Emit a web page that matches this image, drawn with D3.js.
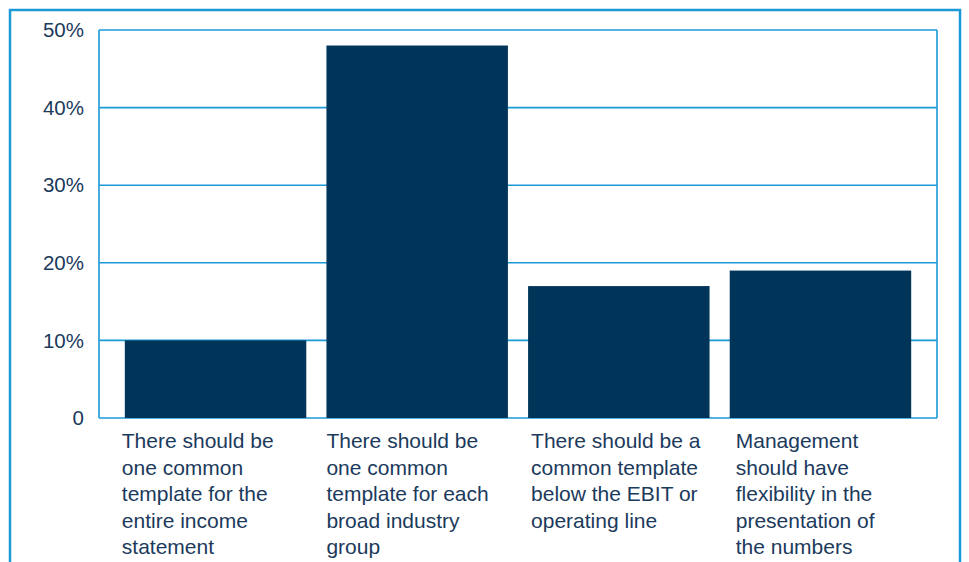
<!DOCTYPE html>
<html>
<head>
<meta charset="utf-8">
<script src="https://cdn.jsdelivr.net/npm/d3@7"></script>
<style>
  body { margin: 0; background: #fff; }
  svg { display: block; font-family: "Liberation Sans", Arial, sans-serif; }
</style>
</head>
<body>
<div id="chart"></div>
<script>
const categories = [
    ["There should be", "one common", "template for the", "entire income", "statement"],
    ["There should be", "one common", "template for each", "broad industry", "group"],
    ["There should be a", "common template", "below the EBIT or", "operating line"],
    ["Management", "should have", "flexibility in the", "presentation of", "the numbers"]
];
const values = [10, 48, 17, 19];
const yTicks = [0, 10, 20, 30, 40, 50];
const yTickLabels = ["0", "10%", "20%", "30%", "40%", "50%"];

const width = 969, height = 562;
const blue = "#1b9ad7", navy = "#003559", textColor = "#1b3a5c";
const plotLeft = 99, plotRight = 937, plotTop = 30, plotBottom = 418;

const svg = d3.select("#chart")
    .append("svg")
    .attr("width", width)
    .attr("height", height);

// outer frame
svg.append("rect")
    .attr("x", 10)
    .attr("y", 10)
    .attr("width", 950)
    .attr("height", 620)
    .attr("fill", "none")
    .attr("stroke", blue)
    .attr("stroke-width", 2.5);

const x = d3.scaleBand()
    .domain(d3.range(categories.length))
    .range([plotLeft, plotRight])
    .paddingInner(0.1)
    .paddingOuter(0.128);

const y = d3.scaleLinear()
    .domain([0, 50])
    .range([plotBottom, plotTop]);

// gridlines
svg.append("g")
    .selectAll("line")
    .data(yTicks)
    .enter().append("line")
    .attr("x1", plotLeft)
    .attr("x2", plotRight)
    .attr("y1", d => y(d))
    .attr("y2", d => y(d))
    .attr("stroke", blue)
    .attr("stroke-width", 1.6);

// side borders
[plotLeft, plotRight].forEach(px => {
    svg.append("line")
        .attr("x1", px).attr("x2", px)
        .attr("y1", plotTop).attr("y2", plotBottom)
        .attr("stroke", blue)
        .attr("stroke-width", 1.6);
});

svg.selectAll(".bar")
    .data(values)
    .enter().append("rect")
    .attr("class", "bar")
    .attr("x", (d, i) => x(i))
    .attr("y", d => y(d))
    .attr("width", x.bandwidth())
    .attr("height", d => plotBottom - y(d))
    .attr("fill", navy);

// y tick labels
svg.append("g")
    .selectAll("text")
    .data(yTicks)
    .enter().append("text")
    .attr("x", 84)
    .attr("y", d => y(d))
    .attr("dy", "0.35em")
    .attr("text-anchor", "end")
    .attr("fill", textColor)
    .style("font-size", "20.5px")
    .text((d, i) => yTickLabels[i]);

// category labels
const labels = svg.append("g")
    .selectAll("text")
    .data(categories)
    .enter().append("text")
    .attr("x", (d, i) => x(i) - 3 + i * 3)
    .attr("y", 448)
    .attr("fill", textColor)
    .style("font-size", "21px");

labels.selectAll("tspan")
    .data(d => d)
    .enter().append("tspan")
    .attr("x", function () { return d3.select(this.parentNode).attr("x"); })
    .attr("dy", (d, i) => i === 0 ? 0 : 26.5)
    .text(d => d);
</script>
</body>
</html>
